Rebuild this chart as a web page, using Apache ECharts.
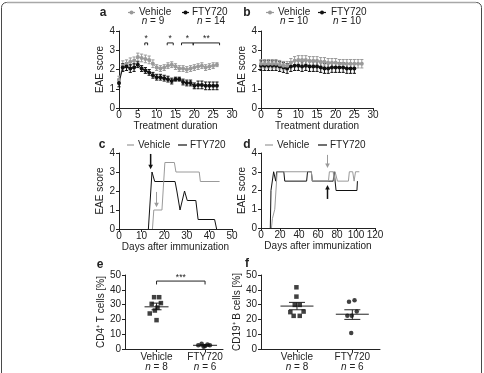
<!DOCTYPE html>
<html>
<head>
<meta charset="utf-8">
<script src="https://cdn.jsdelivr.net/npm/echarts@6/dist/echarts.min.js"></script>
<style>
  html, body { margin: 0; padding: 0; background: #fff; }
  #main { width: 484px; height: 373px; }
</style>
</head>
<body>
<div id="main"></div>
<script>
// ---- data ----
// a: treatment, mean EAE score +/- SEM
const aDays = [0,1,2,3,4,5,6,7,8,9,10,11,12,13,14,15,16,17,18,19,20,21,22,23,24,25,26];
const aVehMean = [1.45,2.2,2.3,2.4,2.45,2.65,2.6,2.55,2.5,2.3,2.1,2.05,2.1,2.2,2.25,2.15,2.05,2.05,2.0,2.05,2.1,2.15,2.2,2.1,2.15,2.2,2.25];
const aVehSem  = [0.2,0.25,0.2,0.2,0.2,0.2,0.2,0.2,0.2,0.2,0.15,0.15,0.15,0.15,0.15,0.15,0.15,0.15,0.15,0.15,0.15,0.15,0.15,0.15,0.15,0.15,0.1];
const aFtyMean = [1.3,2.1,2.15,2.05,2.1,2.25,2.05,1.95,1.85,1.7,1.6,1.6,1.55,1.5,1.4,1.5,1.5,1.35,1.3,1.3,1.15,1.2,1.2,1.15,1.15,1.15,1.15];
const aFtySem  = [0.2,0.2,0.2,0.2,0.2,0.15,0.15,0.15,0.15,0.15,0.15,0.15,0.15,0.15,0.15,0.1,0.1,0.15,0.15,0.15,0.15,0.2,0.2,0.2,0.2,0.2,0.2];
const sigStart = [6.85, 12.8, 16.6, 19.7];
const sigEnd   = [7.6, 14.4, 19.7, 26.7];
const sigLabel = ['*', '*', '*', '**'];

// b: prevention
const bVehDays = [0,1,2,3,4,5,6,7,8,9,10,11,12,13,14,15,16,17,18,19,20,21,22,23,24,25,26,27];
const bVehMean = [2.3,2.3,2.3,2.3,2.3,2.25,2.2,2.2,2.35,2.45,2.5,2.5,2.5,2.45,2.45,2.45,2.4,2.4,2.35,2.35,2.35,2.3,2.3,2.3,2.3,2.3,2.3,2.3];
const bVehSem  = [0.22,0.22,0.22,0.22,0.22,0.22,0.22,0.22,0.22,0.22,0.22,0.22,0.22,0.22,0.22,0.22,0.22,0.22,0.22,0.22,0.22,0.22,0.22,0.22,0.22,0.22,0.22,0.22];
const bFtyDays = [0,1,2,3,4,5,6,7,8,9,10,11,12,13,14,15,16,17,18,19,20,21,22,23,24,25];
const bFtyMean = [2.2,2.2,2.2,2.2,2.2,2.15,2.1,2.05,2.15,2.2,2.2,2.15,2.2,2.15,2.15,2.15,2.1,2.05,2.05,2.1,2.1,2.1,2.1,2.05,2.05,2.05];
const bFtySem  = [0.25,0.25,0.25,0.25,0.25,0.25,0.25,0.25,0.25,0.25,0.25,0.25,0.25,0.25,0.25,0.25,0.25,0.25,0.25,0.25,0.25,0.25,0.25,0.25,0.25,0.25];

// c / d: single animals, [day, score]
const cVeh = [[14.8,0],[15.4,1],[19,1],[20.3,3.5],[24.5,3.5],[25.2,3],[35.5,3],[36,2.5],[44.5,2.5]];
const cFty = [[13,0],[14.6,3],[15.8,2.5],[24.8,2.5],[25.6,2],[27,1],[29,2],[30.2,1.5],[34,1.5],[35,0.5],[42.3,0.5],[43.2,0]];
const cVehArrow = [[16.6, 1.95, 1.15]];
const cFtyArrow = [[14, 3.95, 3.15]];
const dVeh = [[11,0],[12,0.5],[13.5,0.5],[14.5,1],[15,1],[17,3],[53,3],[54,2.5],[71,2.5],[72,3],[76,3],[77,2.5],[78,3],[79.5,3],[80.5,2.5],[92,2.5],[93,3],[96.5,3],[98,2.5],[99.5,3],[103.5,3]];
const dFty = [[9.8,0],[10.5,2],[12,2],[13.3,3],[14.5,3],[15.5,2.5],[16.5,3],[24,3],[25,2.5],[48,2.5],[49,3],[53,3],[54,2.5],[76,2.5],[77,3],[78,3],[79,2],[101,2],[101.5,2.5]];
const dVehArrow = [[70, 3.9, 3.2]];
const dFtyArrow = [[70, 1.55, 2.3]];

// e / f: per animal, x = group (1 Vehicle, 2 FTY720) with jitter
const groupNames = ['Vehicle', 'FTY720'];
const eN = [8, 6];
const eVehX = [0.95, 1.055, 0.9, 1.09, 1.02, 0.965, 0.86, 1.0];
const eVehY = [35, 35, 30.5, 31, 28, 26, 24, 19.5];
const eFtyX = [1.86, 1.93, 2.0, 2.05, 2.1, 1.97];
const eFtyY = [2.5, 3.5, 2.0, 3.0, 2.5, 1.5];
const eMean = [28.5, 2.5];
const eLo = [26.5, 2.0];
const eHi = [31, 3.0];
const fN = [8, 6];
const fVehX = [0.99, 0.99, 0.96, 1.05, 0.88, 1.12, 0.94, 1.05];
const fVehY = [41.7, 35.4, 29.8, 29.8, 24.9, 25.3, 22.4, 22.4];
const fFtyX = [1.94, 2.04, 1.91, 1.99, 2.08, 1.98];
const fFtyY = [32, 33, 22.4, 22.4, 25.3, 10.8];
const fMean = [29, 23.5];
const fLo = [26.5, 20];
const fHi = [31.5, 26.5];

// ---- styling ----
const FONT = '"Liberation Sans", Arial, sans-serif';
const FS = 10;
const GRAY = '#9a9a9a';
const BLACK = '#111';
const INK = '#222';

function axisBase(gi) {
  return {
    gridIndex: gi,
    type: 'value',
    axisLine: { show: true, onZero: false, lineStyle: { color: INK, width: 1 } },
    axisTick: { show: true, inside: false, length: 3, lineStyle: { color: INK } },
    axisLabel: { fontSize: FS, color: INK, fontFamily: FONT, margin: 4 },
    splitLine: { show: false },
    nameLocation: 'middle',
    nameTextStyle: { fontSize: FS, color: INK, fontFamily: FONT }
  };
}

function errBar(color) {
  return function (params, api) {
    const x = api.value(0);
    const a = api.coord([x, api.value(1)]);
    const b = api.coord([x, api.value(2)]);
    const c = 1.6;
    const st = { stroke: color, lineWidth: 1 };
    return { type: 'group', children: [
      { type: 'line', shape: { x1: a[0], y1: a[1], x2: b[0], y2: b[1] }, style: st },
      { type: 'line', shape: { x1: a[0] - c, y1: a[1], x2: a[0] + c, y2: a[1] }, style: st },
      { type: 'line', shape: { x1: b[0] - c, y1: b[1], x2: b[0] + c, y2: b[1] }, style: st }
    ] };
  };
}

function arrow(color, lw) {
  return function (params, api) {
    const x = api.value(0);
    const p0 = api.coord([x, api.value(1)]);
    const p1 = api.coord([x, api.value(2)]);
    const dir = p1[1] > p0[1] ? 1 : -1;
    return { type: 'group', children: [
      { type: 'line', shape: { x1: p0[0], y1: p0[1], x2: p1[0], y2: p1[1] - dir * 3 }, style: { stroke: color, lineWidth: lw } },
      { type: 'polygon', shape: { points: [[p1[0] - 2.3, p1[1] - dir * 4.5], [p1[0] + 2.3, p1[1] - dir * 4.5], [p1[0], p1[1]]] }, style: { fill: color } }
    ] };
  };
}

function bracket(yTop, yLeg, yText, labels) {
  return function (params, api) {
    const s = api.value(0), e = api.value(1);
    const p1 = api.coord([s, yTop]), p2 = api.coord([e, yTop]);
    const l1 = api.coord([s, yLeg]), l2 = api.coord([e, yLeg]);
    const t = api.coord([(s + e) / 2, yText]);
    const st = { stroke: INK, lineWidth: 1 };
    return { type: 'group', children: [
      { type: 'polyline', shape: { points: [l1, p1, p2, l2] }, style: Object.assign({ fill: 'none' }, st) },
      { type: 'text', x: t[0], y: t[1], style: { text: labels[params.dataIndex], fill: INK, font: '8.5px ' + FONT, textAlign: 'center', textVerticalAlign: 'middle' } }
    ] };
  };
}

function meanSem(half, cap) {
  return function (params, api) {
    const x = api.value(0);
    const m = api.coord([x, api.value(1)]);
    const lo = api.coord([x, api.value(2)]);
    const hi = api.coord([x, api.value(3)]);
    const st = { stroke: INK, lineWidth: 1 };
    return { type: 'group', children: [
      { type: 'line', shape: { x1: m[0] - half, y1: m[1], x2: m[0] + half, y2: m[1] }, style: st },
      { type: 'line', shape: { x1: lo[0], y1: lo[1], x2: hi[0], y2: hi[1] }, style: st },
      { type: 'line', shape: { x1: lo[0] - cap, y1: lo[1], x2: lo[0] + cap, y2: lo[1] }, style: st },
      { type: 'line', shape: { x1: hi[0] - cap, y1: hi[1], x2: hi[0] + cap, y2: hi[1] }, style: st }
    ] };
  };
}

function groupLabel(ns) {
  return {
    fontSize: FS, color: INK, fontFamily: FONT, margin: 3, lineHeight: 10,
    customValues: [1, 2],
    formatter: function (v) {
      const i = Math.round(v) - 1;
      return groupNames[i] + '\n{i|n} = ' + ns[i];
    },
    rich: { i: { fontStyle: 'italic', fontSize: FS, fontFamily: FONT, color: INK, lineHeight: 10 } }
  };
}

function txt(x, y, text, size, weight, align) {
  return {
    type: 'text', x: x, y: y, silent: true,
    style: {
      text: text, fill: INK,
      font: (weight || 'normal') + ' ' + (size || FS) + 'px ' + FONT,
      textAlign: align || 'left', textVerticalAlign: 'middle',
      rich: { i: { fontStyle: 'italic', fontSize: size || FS, fontFamily: FONT, fill: INK } }
    }
  };
}

function legLine(x1, x2, y, color, dot) {
  const out = [{ type: 'line', silent: true, shape: { x1: x1, y1: y, x2: x2, y2: y }, style: { stroke: color, lineWidth: 1.2 } }];
  if (dot) out.push({ type: 'circle', silent: true, shape: { cx: (x1 + x2) / 2, cy: y, r: 2 }, style: { fill: color } });
  return out;
}

function pairs(xs, ys) { return xs.map((x, i) => [x, ys[i]]); }
function errData(xs, m, s) { return xs.map((x, i) => [x, m[i] - s[i], m[i] + s[i]]); }

const xAxis = [
  Object.assign(axisBase(0), { min: 0, max: 30, interval: 5, name: 'Treatment duration', nameGap: 11 }),
  Object.assign(axisBase(1), { min: 0, max: 30, interval: 5, name: 'Treatment duration', nameGap: 11 }),
  Object.assign(axisBase(2), { min: 0, max: 50, interval: 10, name: 'Days after immunization', nameGap: 11 }),
  Object.assign(axisBase(3), { min: 0, max: 120, interval: 20, name: 'Days after immunization', nameGap: 11 }),
  Object.assign(axisBase(4), { min: 0.35, max: 2.37 }),
  Object.assign(axisBase(5), { min: 0.35, max: 2.5 })
];
xAxis.slice(0, 4).forEach(a => { a.axisLabel.margin = 2; });
xAxis[4].axisTick = { show: true, length: 3, customValues: [1, 2], lineStyle: { color: INK } };
xAxis[4].axisLabel = groupLabel(eN);
xAxis[5].axisTick = { show: true, length: 3, customValues: [1, 2], lineStyle: { color: INK } };
xAxis[5].axisLabel = groupLabel(fN);

const yAxis = [
  Object.assign(axisBase(0), { min: 0, max: 4, interval: 1, name: 'EAE score', nameGap: 11 }),
  Object.assign(axisBase(1), { min: 0, max: 4, interval: 1, name: 'EAE score', nameGap: 11 }),
  Object.assign(axisBase(2), { min: 0, max: 4, interval: 1, name: 'EAE score', nameGap: 11 }),
  Object.assign(axisBase(3), { min: 0, max: 4, interval: 1, name: 'EAE score', nameGap: 11 }),
  Object.assign(axisBase(4), { min: 0, max: 50, interval: 10, name: 'CD4\u207A T cells [%]', nameGap: 17 }),
  Object.assign(axisBase(5), { min: 0, max: 50, interval: 10, name: 'CD19\u207A B cells [%]', nameGap: 11 })
];

function lineS(gi, data, color, sym) {
  return {
    type: 'line', xAxisIndex: gi, yAxisIndex: gi, data: data,
    symbol: sym ? 'circle' : 'none', symbolSize: 4,
    itemStyle: { color: color }, lineStyle: { color: color, width: 1 },
    silent: true
  };
}
function customS(gi, data, render) {
  return { type: 'custom', xAxisIndex: gi, yAxisIndex: gi, data: data, renderItem: render, silent: true };
}
function scatterS(gi, data, sym) {
  return { type: 'scatter', xAxisIndex: gi, yAxisIndex: gi, data: data, symbol: sym, symbolSize: 4.5, itemStyle: { color: BLACK }, silent: true };
}

const series = [
  // a
  customS(0, errData(aDays, aVehMean, aVehSem), errBar(GRAY)),
  lineS(0, pairs(aDays, aVehMean), GRAY, true),
  customS(0, errData(aDays, aFtyMean, aFtySem), errBar(BLACK)),
  lineS(0, pairs(aDays, aFtyMean), BLACK, true),
  customS(0, sigStart.map((s, i) => [s, sigEnd[i]]), bracket(3.38, 3.26, 3.62, sigLabel)),
  // b
  customS(1, errData(bFtyDays, bFtyMean, bFtySem), errBar(BLACK)),
  lineS(1, pairs(bFtyDays, bFtyMean), BLACK, true),
  customS(1, errData(bVehDays, bVehMean, bVehSem), errBar(GRAY)),
  lineS(1, pairs(bVehDays, bVehMean), GRAY, true),
  // c
  lineS(2, cFty, BLACK, false),
  lineS(2, cVeh, GRAY, false),
  customS(2, cFtyArrow, arrow(BLACK, 1.5)),
  customS(2, cVehArrow, arrow(GRAY, 1)),
  // d
  lineS(3, dFty, BLACK, false),
  lineS(3, dVeh, GRAY, false),
  customS(3, dVehArrow, arrow(GRAY, 1)),
  customS(3, dFtyArrow, arrow(BLACK, 1.5)),
  // e
  scatterS(4, pairs(eVehX, eVehY), 'rect'),
  scatterS(4, pairs(eFtyX, eFtyY), 'circle'),
  customS(4, [1, 2].map((g, i) => [g, eMean[i], eLo[i], eHi[i]]), meanSem(12, 5)),
  customS(4, [[1, 2]], bracket(45.9, 43.6, 48.4, ['***'])),
  // f
  scatterS(5, pairs(fVehX, fVehY), 'rect'),
  scatterS(5, pairs(fFtyX, fFtyY), 'circle'),
  customS(5, [1, 2].map((g, i) => [g, fMean[i], fLo[i], fHi[i]]), meanSem(16.5, 8))
];

const graphic = [
  { type: 'rect', silent: true, shape: { x: 1.5, y: 2.5, width: 480, height: 420, r: 5 }, style: { fill: 'none', stroke: '#4a4a4a', lineWidth: 1 } },
  { type: 'line', silent: true, shape: { x1: 7, y1: 2.5, x2: 476, y2: 2.5 }, style: { stroke: '#a8a8a8', lineWidth: 1.5 } },
  txt(103, 12.5, 'a', 12, 'bold', 'center'),
  txt(247, 12.5, 'b', 12, 'bold', 'center'),
  txt(102, 145, 'c', 12, 'bold', 'center'),
  txt(247, 145, 'd', 12, 'bold', 'center'),
  txt(100, 265, 'e', 12, 'bold', 'center'),
  txt(247, 264, 'f', 12, 'bold', 'center'),
  // legends a
  ...legLine(128, 135, 12.5, GRAY, true),
  txt(139, 12.5, 'Vehicle'),
  txt(153, 21.5, '{i|n} = 9', FS, 'normal', 'center'),
  ...legLine(182, 189, 12.5, BLACK, true),
  txt(192, 12.5, 'FTY720'),
  txt(211, 21.5, '{i|n} = 14', FS, 'normal', 'center'),
  // legends b
  ...legLine(266, 274, 12.5, GRAY, true),
  txt(278, 12.5, 'Vehicle'),
  txt(294, 21.5, '{i|n} = 10', FS, 'normal', 'center'),
  ...legLine(318, 326, 12.5, BLACK, true),
  txt(331, 12.5, 'FTY720'),
  txt(347, 21.5, '{i|n} = 10', FS, 'normal', 'center'),
  // legends c
  ...legLine(127, 134, 145, GRAY, false),
  txt(138, 145, 'Vehicle'),
  ...legLine(178, 187, 145, BLACK, false),
  txt(190, 145, 'FTY720'),
  // legends d
  ...legLine(265, 273, 145, GRAY, false),
  txt(277, 145, 'Vehicle'),
  ...legLine(318, 327, 145, BLACK, false),
  txt(330, 145, 'FTY720')
];

const chart = echarts.init(document.getElementById('main'));
chart.setOption({
  animation: false,
  grid: [
    { left: 119, top: 31, width: 113, height: 77 },
    { left: 261, top: 31, width: 112, height: 77 },
    { left: 119, top: 153, width: 113, height: 76 },
    { left: 261, top: 153, width: 114, height: 75 },
    { left: 125, top: 275, width: 98, height: 74 },
    { left: 261, top: 275, width: 119, height: 74 }
  ],
  xAxis: xAxis,
  yAxis: yAxis,
  series: series,
  graphic: graphic
});
</script>
</body>
</html>
